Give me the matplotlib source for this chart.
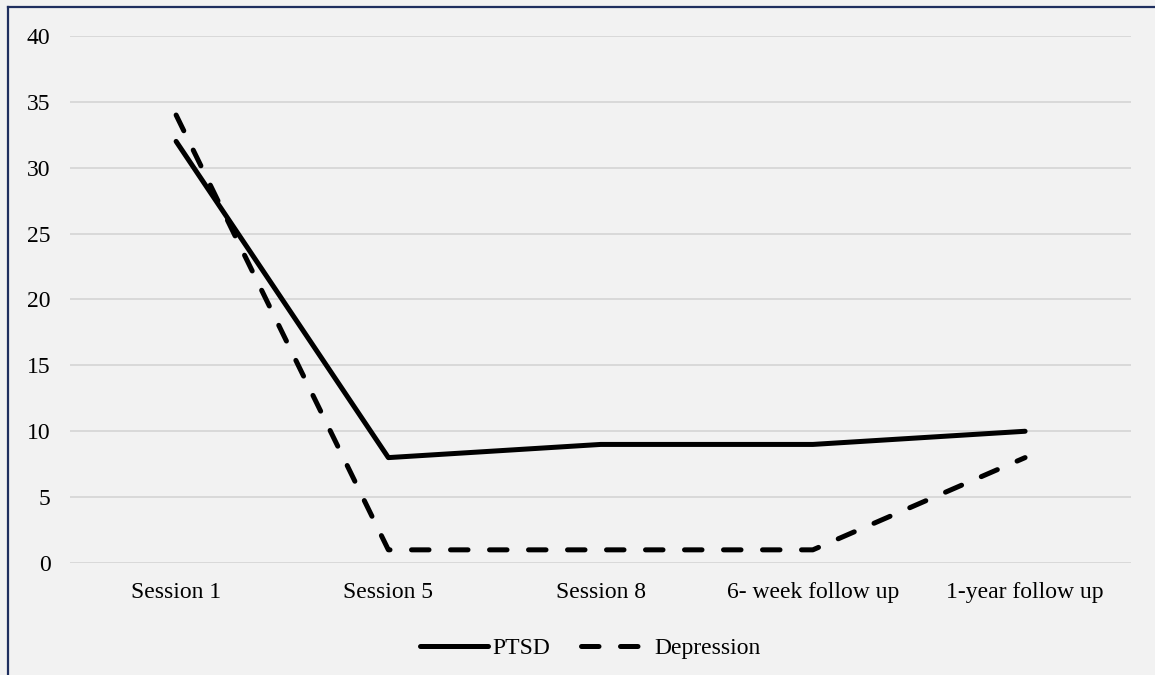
import matplotlib
matplotlib.use('Agg')
import matplotlib.pyplot as plt
from matplotlib.lines import Line2D

# chart data
sessions = ["Session 1", "Session 5", "Session 8", "6- week follow up", "1-year follow up"]
ptsd = [32, 8, 9, 9, 10]
depression = [34, 1, 1, 1, 8]
y_ticks = [0, 5, 10, 15, 20, 25, 30, 35, 40]

plt.rcParams['font.family'] = ['Liberation Serif', 'DejaVu Serif']

bg = '#f2f2f2'
fig = plt.figure(figsize=(11.55, 6.75), dpi=100, facecolor=bg)
ax = fig.add_axes([0.0606, 0.1659, 0.9188, 0.7808], facecolor=bg)

x = list(range(len(sessions)))
lw = 3.6
ax.plot(x, ptsd, color='black', lw=lw, solid_capstyle='round',
        solid_joinstyle='round', label='PTSD')
dep_line, = ax.plot(x, depression, color='black', lw=lw,
                    dash_capstyle='round', label='Depression')
dep_line.set_dashes((3.5, 4.3))

ax.set_xlim(-0.5, len(sessions) - 0.5)
ax.set_ylim(0, 40)
ax.set_yticks(y_ticks)
ax.set_xticks(x)
ax.set_xticklabels(sessions)
ax.tick_params(axis='both', length=0, labelsize=17, colors='#000000')
ax.tick_params(axis='y', pad=14)
ax.tick_params(axis='x', pad=14)
ax.grid(axis='y', color='#d9d9d9', lw=1.4)
ax.set_axisbelow(True)
for s in ax.spines.values():
    s.set_visible(False)

leg = fig.legend(loc='center', bbox_to_anchor=(0.511, 0.04), ncol=2,
                 frameon=False, fontsize=17, handlelength=2.9,
                 handletextpad=0.2, columnspacing=1.3)

# border of the chart area (only the left and top edges show)
border = '#1f2f5f'
fig.add_artist(Line2D([8 / 1155, 8 / 1155], [0, 1 - 7 / 675],
                      transform=fig.transFigure, color=border, lw=1.6))
fig.add_artist(Line2D([8 / 1155, 1], [1 - 7 / 675, 1 - 7 / 675],
                      transform=fig.transFigure, color=border, lw=1.6))

fig.savefig('out.png', dpi=100, facecolor=bg)
